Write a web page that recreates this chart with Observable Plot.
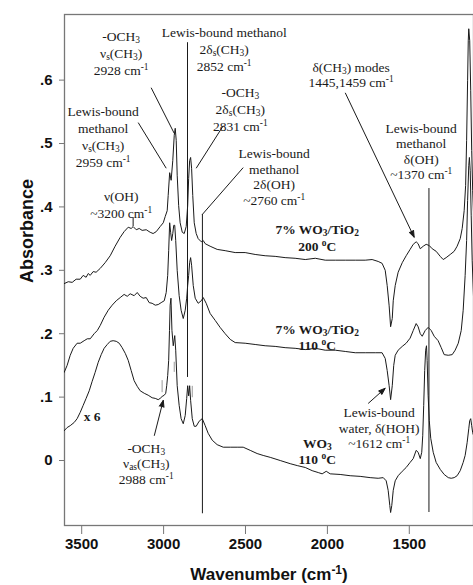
<!DOCTYPE html>
<html>
<head>
<meta charset="utf-8">
<script src="https://cdn.jsdelivr.net/npm/d3@7"></script>
<script src="https://cdn.jsdelivr.net/npm/@observablehq/plot@0.6"></script>
<style>
  html, body { margin: 0; padding: 0; background: #fff; }
  #chart svg { display: block; background: #fff; }
</style>
</head>
<body>
<div id="chart"></div>
<script>
// In-situ IR spectra of adsorbed methanol: [wavenumber (cm-1), absorbance]
const tio2At200 = [
  [3607,0.279],[3582,0.282],[3558,0.281],[3534,0.286],[3509,0.286],[3491,0.292],[3473,0.289],
  [3460,0.295],[3448,0.292],[3430,0.298],[3412,0.297],[3387,0.303],[3357,0.312],[3326,0.323],
  [3296,0.338],[3265,0.352],[3241,0.361],[3216,0.368],[3198,0.366],[3186,0.369],[3167,0.364],
  [3149,0.366],[3131,0.363],[3106,0.364],[3082,0.360],[3064,0.358],[3045,0.361],[3021,0.369],
  [3002,0.375],[2990,0.385],[2978,0.394],[2972,0.418],[2963,0.454],[2954,0.442],[2944,0.473],
  [2935,0.513],[2929,0.524],[2923,0.505],[2917,0.450],[2908,0.402],[2899,0.375],[2886,0.360],
  [2874,0.358],[2862,0.369],[2853,0.402],[2847,0.445],[2841,0.473],[2835,0.478],[2829,0.461],
  [2822,0.418],[2813,0.375],[2801,0.358],[2789,0.350],[2770,0.345],[2758,0.347],[2746,0.342],
  [2716,0.338],[2673,0.333],[2624,0.331],[2563,0.328],[2502,0.328],[2441,0.325],[2380,0.323],
  [2319,0.322],[2258,0.320],[2197,0.319],[2135,0.317],[2074,0.319],[2013,0.316],[1952,0.316],
  [1891,0.316],[1830,0.316],[1769,0.316],[1727,0.317],[1690,0.314],[1666,0.311],[1647,0.300],
  [1635,0.276],[1623,0.244],[1614,0.211],[1604,0.224],[1598,0.252],[1586,0.276],[1568,0.297],
  [1543,0.312],[1519,0.323],[1495,0.333],[1476,0.341],[1458,0.345],[1446,0.342],[1433,0.334],
  [1415,0.338],[1397,0.341],[1378,0.339],[1360,0.334],[1336,0.330],[1311,0.322],[1293,0.317],
  [1275,0.320],[1250,0.325],[1226,0.330],[1208,0.338],[1189,0.350],[1177,0.366],[1165,0.394],
  [1156,0.434],[1150,0.505],[1144,0.599],[1140,0.662],[1137,0.681],[1131,0.662],[1125,0.584],
  [1119,0.489],[1113,0.426],[1107,0.386]
];

const tio2At110 = [
  [3607,0.139],[3589,0.150],[3570,0.166],[3552,0.177],[3528,0.185],[3509,0.185],[3485,0.189],
  [3466,0.192],[3448,0.192],[3424,0.200],[3405,0.205],[3387,0.213],[3363,0.226],[3338,0.237],
  [3314,0.245],[3289,0.252],[3265,0.257],[3241,0.262],[3222,0.259],[3204,0.263],[3180,0.260],
  [3161,0.265],[3143,0.259],[3125,0.256],[3106,0.257],[3088,0.249],[3070,0.248],[3051,0.245],
  [3033,0.246],[3015,0.249],[2996,0.252],[2984,0.265],[2975,0.292],[2969,0.331],[2963,0.375],
  [2957,0.360],[2951,0.347],[2944,0.358],[2938,0.371],[2932,0.371],[2926,0.347],[2917,0.300],
  [2905,0.260],[2893,0.237],[2880,0.224],[2868,0.237],[2859,0.256],[2853,0.276],[2847,0.292],
  [2841,0.312],[2835,0.320],[2829,0.308],[2819,0.276],[2807,0.256],[2789,0.248],[2770,0.252],
  [2758,0.257],[2740,0.248],[2716,0.232],[2685,0.221],[2655,0.210],[2624,0.200],[2593,0.191],
  [2563,0.186],[2502,0.185],[2441,0.183],[2380,0.181],[2319,0.180],[2258,0.178],[2197,0.177],
  [2135,0.175],[2074,0.177],[2013,0.174],[1952,0.174],[1891,0.172],[1830,0.170],[1769,0.170],
  [1708,0.170],[1666,0.170],[1647,0.161],[1635,0.142],[1623,0.118],[1614,0.096],[1604,0.118],
  [1595,0.150],[1586,0.166],[1568,0.174],[1543,0.180],[1519,0.185],[1495,0.193],[1476,0.205],
  [1458,0.216],[1446,0.211],[1433,0.200],[1421,0.196],[1403,0.205],[1385,0.210],[1366,0.205],
  [1348,0.196],[1324,0.189],[1305,0.178],[1287,0.167],[1262,0.166],[1238,0.167],[1220,0.174],
  [1201,0.185],[1183,0.205],[1171,0.237],[1159,0.292],[1150,0.347],[1144,0.410],[1137,0.465],
  [1133,0.478],[1128,0.457],[1122,0.386],[1116,0.315],[1107,0.252]
];

// WO3 at 110 °C, plotted ×6
const wo3At110 = [
  [3607,0.047],[3589,0.052],[3570,0.055],[3546,0.060],[3528,0.066],[3509,0.076],[3491,0.087],
  [3473,0.098],[3454,0.110],[3436,0.125],[3418,0.139],[3399,0.155],[3381,0.167],[3363,0.177],
  [3344,0.183],[3326,0.188],[3308,0.189],[3289,0.188],[3271,0.185],[3253,0.178],[3234,0.169],
  [3216,0.158],[3198,0.142],[3180,0.126],[3161,0.117],[3143,0.110],[3118,0.106],[3094,0.103],
  [3070,0.099],[3051,0.098],[3033,0.096],[3021,0.098],[3009,0.101],[2996,0.103],[2987,0.106],
  [2981,0.118],[2975,0.134],[2969,0.158],[2964,0.205],[2960,0.245],[2955,0.256],[2949,0.205],
  [2941,0.181],[2932,0.197],[2926,0.174],[2917,0.118],[2905,0.087],[2893,0.066],[2880,0.058],
  [2868,0.071],[2859,0.098],[2853,0.118],[2847,0.102],[2841,0.118],[2835,0.095],[2825,0.066],
  [2813,0.054],[2801,0.054],[2783,0.062],[2764,0.066],[2746,0.055],[2728,0.043],[2703,0.032],
  [2673,0.025],[2636,0.021],[2593,0.021],[2551,0.021],[2514,0.021],[2471,0.016],[2429,0.011],
  [2392,0.008],[2349,0.005],[2288,0.000],[2227,-0.005],[2184,-0.008],[2135,-0.011],[2093,-0.016],
  [2056,-0.019],[2032,-0.021],[2007,-0.017],[1983,-0.021],[1922,-0.022],[1861,-0.024],[1800,-0.025],
  [1739,-0.027],[1690,-0.028],[1659,-0.027],[1641,-0.032],[1629,-0.047],[1619,-0.071],[1614,-0.082],
  [1607,-0.071],[1598,-0.047],[1586,-0.032],[1568,-0.024],[1543,-0.017],[1519,-0.011],[1495,-0.003],
  [1476,0.003],[1458,0.016],[1446,0.013],[1433,0.003],[1424,0.013],[1418,0.039],[1412,0.087],
  [1406,0.142],[1400,0.174],[1395,0.181],[1391,0.158],[1385,0.103],[1378,0.063],[1369,0.035],
  [1354,0.013],[1336,-0.003],[1311,-0.014],[1287,-0.022],[1262,-0.027],[1244,-0.028],[1226,-0.027],
  [1208,-0.024],[1189,-0.016],[1171,-0.003],[1159,0.008],[1147,0.028],[1137,0.050],[1131,0.063],
  [1125,0.066],[1119,0.055],[1113,0.044],[1107,0.039]
];

// Axis ticks
const xTicks = [3500, 3000, 2500, 2000, 1500];
const yTicks = [0, 0.1, 0.2, 0.3, 0.4, 0.5, 0.6];

// Band-position markers: [wavenumber, from absorbance, to absorbance]
const bandLines = [
  [2854, 0.659, 0.131],
  [2763, 0.388, -0.084],
  [1380, 0.429, -0.082],
  [3186, 0.383, 0.369]
];
const bandTicks = [
  [3009, 0.126, 0.107],
  [2935, 0.155, 0.139],
  [2825, 0.117, 0.099]
];

// Leader lines from labels to bands: [w1, a1, w2, a2]
const leaders = [
  [3076, 0.588, 2935, 0.516],
  [3155, 0.533, 2984, 0.461],
  [2636, 0.528, 2801, 0.461],
  [2514, 0.462, 2764, 0.388]
];
const pointers = [
  [1891, 0.580, 1470, 0.352],
  [3057, 0.039, 3002, 0.095],
  [1751, 0.090, 1647, 0.114]
];

// Band assignments: [wavenumber, absorbance, text]
const bandLabelsLoose = [
  [3259, 0.644, "-OCH_3\nν_s(CH_3)\n2928 cm^{-1}"],
  [2630, 0.650, "Lewis-bound methanol\n2δ_s(CH_3)\n2852 cm^{-1}"],
  [2532, 0.555, "-OCH_3\n2δ_s(CH_3)\n2831 cm^{-1}"],
  [3369, 0.512, "Lewis-bound\nmethanol\nν_s(CH_3)\n2959 cm^{-1}"],
  [3259, 0.404, "ν(OH)\n~3200 cm^{-1}"]
];
const bandLabelsTight = [
  [2325, 0.448, "Lewis-bound\nmethanol\n2δ(OH)\n~2760 cm^{-1}"],
  [1855, 0.609, "δ(CH_3) modes\n1445,1459 cm^{-1}"],
  [1427, 0.488, "Lewis-bound\nmethanol\nδ(OH)\n~1370 cm^{-1}"],
  [1684, 0.052, "Lewis-bound\nwater, δ(HOH)\n~1612 cm^{-1}"],
  [3106, -0.004, "-OCH_3\nν_{as}(CH_3)\n2988 cm^{-1}"]
];
const sampleLabels = [
  [2062, 0.352, "7% WO_3/TiO_2\n200 ^oC"],
  [2062, 0.195, "7% WO_3/TiO_2\n110 ^oC"],
  [2062, 0.015, "WO_3\n110 ^oC"],
  [3436, 0.071, "x 6"]
];

const serif = "'Liberation Serif', 'Times New Roman', serif";
const sans = "'Liberation Sans', Arial, sans-serif";
const ink = "#1a1a1a";
const axisGray = "#777";

const tr = (arr) => arr.map(([w, a]) => ({w, a}));
const spectra = [tr(tio2At200), tr(tio2At110), tr(wo3At110)];

const fmtY = (d) => d === 0 ? "0" : d3.format(".1f")(d).replace(/^0/, "");

const plot = Plot.plot({
  width: 473,
  height: 585,
  marginLeft: 64,
  marginRight: 0,
  marginTop: 14,
  marginBottom: 60,
  style: {background: "#fff", fontFamily: sans},
  x: {domain: [3605, 1108]},
  y: {domain: [-0.1025, 0.7035]},
  marks: [
    Plot.frame({stroke: axisGray, strokeWidth: 1.3}),
    Plot.axisY({
      ticks: yTicks, tickSize: 5, tickPadding: 7, tickFormat: fmtY,
      stroke: axisGray, fill: "#111", fontSize: 15, fontWeight: "bold", fontFamily: sans, label: null
    }),
    Plot.axisX({
      ticks: xTicks, tickSize: 9, tickPadding: 4, tickFormat: (d) => String(d),
      stroke: axisGray, fill: "#111", fontSize: 15, fontWeight: "bold", fontFamily: sans, label: null
    }),
    Plot.text(["Wavenumber (cm^{-1})"], {
      frameAnchor: "bottom", dy: 54, fontSize: 17, fontWeight: "bold", fontFamily: sans, fill: "#111"
    }),
    Plot.text(["Absorbance"], {
      frameAnchor: "left", dx: -37, dy: 13, rotate: -90, fontSize: 18, fontWeight: "bold",
      fontFamily: sans, fill: "#111"
    }),
    ...spectra.map((s) => Plot.line(s, {x: "w", y: "a", stroke: ink, strokeWidth: 1, clip: true})),
    Plot.ruleX(bandLines, {x: (d) => d[0], y1: (d) => d[1], y2: (d) => d[2], stroke: ink, strokeWidth: 1}),
    Plot.ruleX(bandTicks, {x: (d) => d[0], y1: (d) => d[1], y2: (d) => d[2], stroke: "#999", strokeWidth: 1}),
    Plot.link(leaders, {x1: (d) => d[0], y1: (d) => d[1], x2: (d) => d[2], y2: (d) => d[3], stroke: ink, strokeWidth: 1}),
    Plot.arrow(pointers, {
      x1: (d) => d[0], y1: (d) => d[1], x2: (d) => d[2], y2: (d) => d[3],
      stroke: ink, fill: ink, strokeWidth: 1, headLength: 11, headAngle: 40, strokeLinecap: "butt"
    }),
    Plot.text(bandLabelsLoose, {
      x: (d) => d[0], y: (d) => d[1], text: (d) => d[2], lineAnchor: "middle", lineHeight: 1.27,
      fontSize: 13.5, fontFamily: serif, fill: ink
    }),
    Plot.text(bandLabelsTight, {
      x: (d) => d[0], y: (d) => d[1], text: (d) => d[2], lineAnchor: "middle", lineHeight: 1.15,
      fontSize: 13.5, fontFamily: serif, fill: ink
    }),
    Plot.text(sampleLabels, {
      x: (d) => d[0], y: (d) => d[1], text: (d) => d[2], lineAnchor: "middle", lineHeight: 1.2,
      fontSize: 13.5, fontWeight: "bold", fontFamily: serif, fill: ink
    })
  ]
});

// Turn _x / ^x (or _{..} / ^{..}) into sub- and superscript tspans.
function scriptify(svg) {
  const NS = "http://www.w3.org/2000/svg";
  svg.querySelectorAll("text").forEach((t) => {
    const lines = t.querySelectorAll("tspan");
    const items = lines.length ? Array.from(lines) : [t];
    items.forEach((el) => {
      const s = el.textContent;
      if (!/[_^]/.test(s)) return;
      el.textContent = "";
      const re = /([_^])(\{[^}]*\}|.)/g;
      let last = 0, m;
      while ((m = re.exec(s))) {
        if (m.index > last) el.appendChild(document.createTextNode(s.slice(last, m.index)));
        const span = document.createElementNS(NS, "tspan");
        span.textContent = m[2].replace(/^\{|\}$/g, "");
        span.setAttribute("font-size", "0.7em");
        span.setAttribute("baseline-shift", m[1] === "_" ? "-0.25em" : "0.5em");
        el.appendChild(span);
        last = re.lastIndex;
      }
      if (last < s.length) el.appendChild(document.createTextNode(s.slice(last)));
    });
  });
}
scriptify(plot);

document.getElementById("chart").appendChild(plot);
</script>
</body>
</html>
